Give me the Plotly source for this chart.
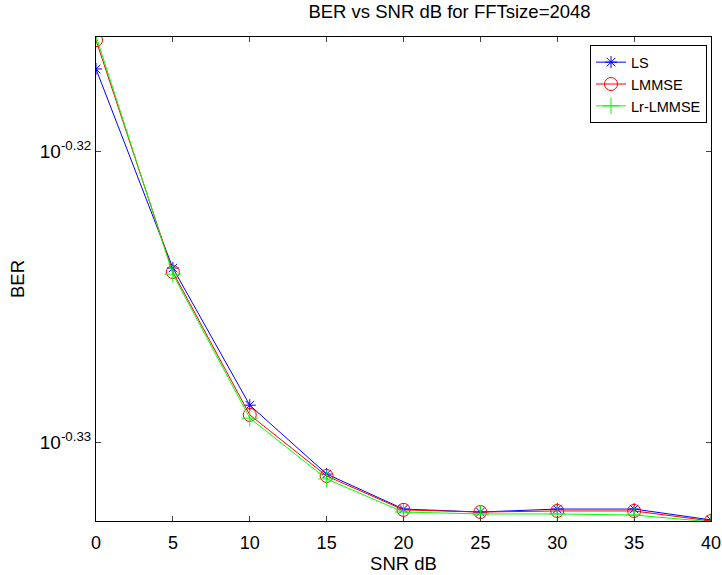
import plotly.graph_objects as go

snr = [0, 5, 10, 15, 20, 25, 30, 35, 40]
ber_ls = [0.48175, 0.47422, 0.46910, 0.46655, 0.46526, 0.46515, 0.46526, 0.46526, 0.46486]
ber_lmmse = [0.48285, 0.47407, 0.46874, 0.46648, 0.46523, 0.46515, 0.46519, 0.46519, 0.46482]
ber_lr = [0.48301, 0.47399, 0.46862, 0.46637, 0.46515, 0.46508, 0.46508, 0.46504, 0.46479]

x_ticks = [0, 5, 10, 15, 20, 25, 30, 35, 40]
y_tick_exps = [-0.33, -0.32]
y_tick_text = ["10<sup>-0.33</sup>", "10<sup>-0.32</sup>"]

fig = go.Figure()
fig.add_trace(go.Scatter(x=snr, y=ber_ls, name="LS", mode="lines+markers",
                         line=dict(color="#0000ff", width=1),
                         marker=dict(symbol="asterisk-open", size=10, color="#0000ff",
                                     line=dict(color="#0000ff", width=1))))
fig.add_trace(go.Scatter(x=snr, y=ber_lmmse, name="LMMSE", mode="lines+markers",
                         line=dict(color="#ff0000", width=1),
                         marker=dict(symbol="circle-open", size=13, color="#ff0000",
                                     line=dict(color="#ff0000", width=1))))
fig.add_trace(go.Scatter(x=snr, y=ber_lr, name="Lr-LMMSE", mode="lines+markers",
                         line=dict(color="#00ff00", width=1),
                         marker=dict(symbol="cross-thin-open", size=12, color="#00ff00",
                                     line=dict(color="#00ff00", width=1))))

fig.update_layout(
    width=722, height=575,
    margin=dict(l=96, r=11, t=37, b=54, autoexpand=False),
    paper_bgcolor="white", plot_bgcolor="white",
    font=dict(family="Liberation Sans, Arial, sans-serif", size=17, color="black"),
    title=dict(text="BER vs SNR dB for FFTsize=2048", xref="paper", x=415 / 722,
               xanchor="center", y=1 - 12 / 575, yanchor="middle", font=dict(size=18.5)),
    showlegend=True,
    legend=dict(x=0.9935, y=0.983, xanchor="right", yanchor="top",
                bordercolor="black", borderwidth=1, bgcolor="white",
                font=dict(size=14.5), tracegroupgap=0, itemwidth=30),
)
fig.update_xaxes(range=[0, 40], tickvals=x_ticks, ticks="inside", ticklen=5,
                 tickfont=dict(size=18), ticklabelstandoff=5, automargin=False,
                 showline=True, linecolor="black", linewidth=1, mirror="ticks",
                 showgrid=False, zeroline=False,
                 title=dict(text="SNR dB", standoff=4, font=dict(size=18.5)))
fig.update_yaxes(type="log", range=[-0.332715, -0.31608],
                 tickvals=[10 ** e for e in y_tick_exps], ticktext=y_tick_text,
                 tickfont=dict(size=19), automargin=False,
                 ticks="inside", ticklen=5,
                 showline=True, linecolor="black", linewidth=1, mirror="ticks",
                 showgrid=False, zeroline=False,
                 title=dict(text="BER", standoff=10, font=dict(size=18.5)))

fig.write_html("out.html")
